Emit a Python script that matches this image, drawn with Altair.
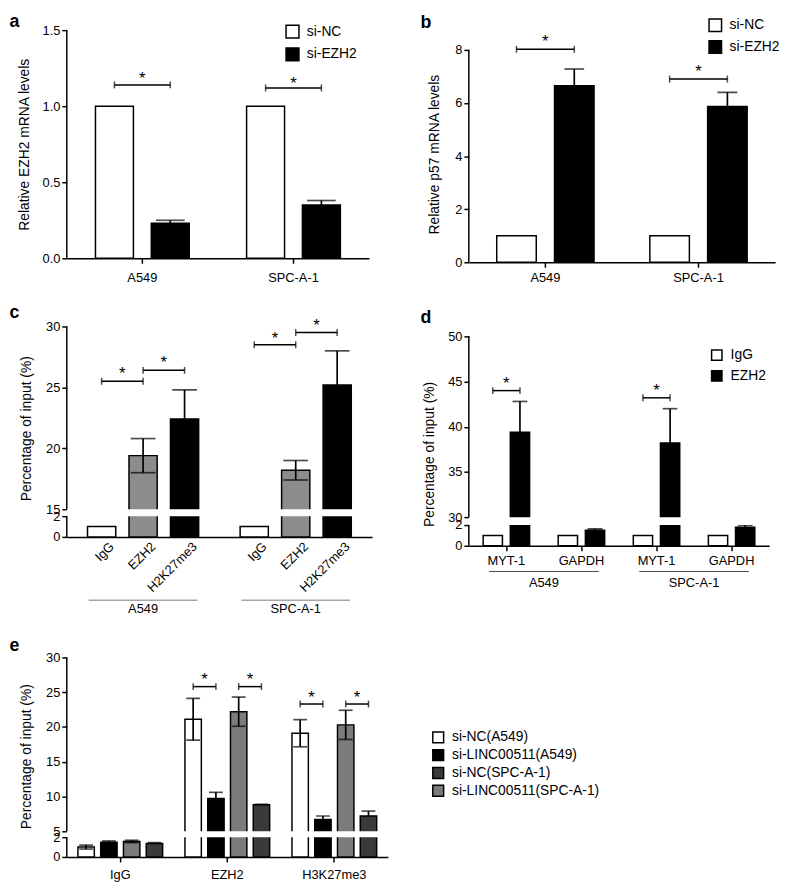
import altair as alt
import pandas as pd

FONT = "Liberation Sans"

# ---------------- panel a ----------------
a_cells = ["A549", "SPC-A-1"]
a_groups = ["si-NC", "si-EZH2"]
a_nc = [1.0, 1.0]
a_si = [0.23, 0.35]
a_si_err = [0.02, 0.03]
a_sig_y = [1.14, 1.12]
a_star_y = [1.21, 1.18]
a_yticks = [0.0, 0.5, 1.0, 1.5]

# ---------------- panel b ----------------
b_cells = ["A549", "SPC-A-1"]
b_groups = ["si-NC", "si-EZH2"]
b_nc = [1.0, 1.0]
b_si = [6.65, 5.87]
b_si_err = [0.63, 0.53]
b_sig_y = [8.02, 6.9]
b_star_y = [8.48, 7.36]
b_yticks = [0, 2, 4, 6, 8]

# ---------------- panel c ----------------
c_cells = ["A549", "SPC-A-1"]
c_abs = ["IgG", "EZH2", "H2K27me3"]
c_colors = ["white", "#8c8c8c", "black"]
c_igg = [1.0, 1.0]
c_ezh2 = [19.4, 18.2]
c_ezh2_err = [1.4, 0.8]
c_h3 = [22.4, 25.2]
c_h3_err = [2.4, 2.8]
c_sig_cell = ["A549", "A549", "SPC-A-1", "SPC-A-1"]
c_sig_left = ["IgG", "EZH2", "IgG", "EZH2"]
c_sig_right = ["EZH2", "H2K27me3", "EZH2", "H2K27me3"]
c_sig_y = [25.5, 26.4, 28.5, 29.5]
c_star_y = [26.5, 27.4, 29.4, 30.4]
c_yticks = [0, 2, 15, 20, 25, 30]
c_break = [2, 15]

# ---------------- panel d ----------------
d_cells = ["A549", "SPC-A-1"]
d_genes = ["MYT-1", "GAPDH"]
d_groups = ["IgG", "EZH2"]
d_igg = [1.0, 1.0, 1.0, 1.0]          # A549 MYT-1, A549 GAPDH, SPC MYT-1, SPC GAPDH
d_ezh2 = [39.4, 1.5, 38.2, 1.78]
d_ezh2_err = [3.4, 0.13, 3.8, 0.19]
d_sig_cell = ["A549", "SPC-A-1"]
d_sig_gene = ["MYT-1", "MYT-1"]
d_sig_y = [44.0, 43.2]
d_star_y = [45.3, 44.5]
d_yticks = [0, 2, 30, 35, 40, 45, 50]
d_break = [2, 30]

# ---------------- panel e ----------------
e_abs = ["IgG", "EZH2", "H3K27me3"]
e_series = ["si-NC(A549)", "si-LINC00511(A549)", "si-NC(SPC-A-1)", "si-LINC00511(SPC-A-1)"]
e_slot_order = ["si-NC(A549)", "si-LINC00511(A549)", "si-LINC00511(SPC-A-1)", "si-NC(SPC-A-1)"]
e_colors = ["white", "black", "#3a3a3a", "#7c7c7c"]
e_vals = [
    [1.0, 21.1, 19.1],     # si-NC(A549)
    [1.5, 9.7, 6.7],       # si-LINC00511(A549)
    [1.37, 8.8, 7.2],      # si-NC(SPC-A-1)
    [1.57, 22.2, 20.3],    # si-LINC00511(SPC-A-1)
]
e_errs = [
    [0.2, 3.0, 1.95],
    [0.12, 0.9, 0.5],
    [0.08, 0.08, 0.7],
    [0.12, 2.1, 2.1],
]
e_two_sided = [True, False, False, True]
e_sig_ab = ["EZH2", "EZH2", "H3K27me3", "H3K27me3"]
e_sig_left = ["si-NC(A549)", "si-LINC00511(SPC-A-1)", "si-NC(A549)", "si-LINC00511(SPC-A-1)"]
e_sig_right = ["si-LINC00511(A549)", "si-NC(SPC-A-1)", "si-LINC00511(A549)", "si-NC(SPC-A-1)"]
e_sig_y = [25.8, 25.8, 23.3, 23.3]
e_star_y = [27.4, 27.4, 24.8, 24.8]
e_yticks = [0, 2, 5, 10, 15, 20, 25, 30]
e_break = [2, 5]


# ---------------- helpers ----------------
def y_axis(values, title, tx, ty, fmt=None):
    kw = dict(values=values, title=title, domain=False, grid=False, tickSize=5,
              tickWidth=1.5, tickColor="black", labelFontSize=13, labelColor="black",
              labelPadding=2, labelOverlap=False, titleFontSize=14,
              titleFontWeight="normal", titleColor="black", titleX=tx, titleY=ty,
              titleAngle=270, titleAlign="center", titleBaseline="middle")
    if fmt is not None:
        kw["format"] = fmt
    return alt.Axis(**kw)


def x_axis(**extra):
    kw = dict(title=None, labelAngle=0, labelFontSize=13, labelColor="black",
              tickSize=5, tickWidth=1.5, tickColor="black", domainWidth=1.5,
              domainColor="black", labelPadding=3, grid=False)
    kw.update(extra)
    return alt.Axis(**kw)


def legend(x, y, size, rowpad):
    return alt.Legend(orient="none", legendX=x, legendY=y, title=None,
                      symbolType="square", symbolSize=size, symbolStrokeColor="black",
                      symbolStrokeWidth=1.5, labelFontSize=14, labelColor="black",
                      labelOffset=7, rowPadding=rowpad)


def ptitle(letter, dx, offset, dy=0):
    return alt.TitleParams(text=letter, anchor="start", frame="group", dx=dx, dy=dy,
                           offset=offset, fontSize=18, fontWeight="bold",
                           color="black", font=FONT)


def panel(cfg):
    xf, of = cfg["xf"], cfg["of"]

    def X():
        return alt.X(f"{xf}:N", scale=alt.Scale(domain=cfg["xdom"], paddingInner=0,
                                                 paddingOuter=0), axis=cfg["xax"])

    def O():
        return alt.XOffset(f"{of}:N", scale=alt.Scale(domain=cfg["odom"],
                                                       paddingInner=cfg["opi"],
                                                       paddingOuter=cfg["opo"]))

    def Y(f):
        return alt.Y(f"{f}:Q", scale=alt.Scale(domain=cfg["ydom"], range=cfg["yrng"],
                                               nice=False, zero=False), axis=cfg["yax"])

    L = []
    L.append(alt.Chart(cfg["bars"]).mark_bar(stroke="black", strokeWidth=1.5).encode(
        x=X(), xOffset=O(), y=Y("v"),
        color=alt.Color("g:N", scale=alt.Scale(domain=cfg["cdom"], range=cfg["crng"]),
                        legend=cfg["legend"])))
    errs = cfg["errs"]
    L.append(alt.Chart(errs).mark_rule(color="black", strokeWidth=1.7).encode(
        x=X(), xOffset=O(), y=Y("lo"), y2="hi:Q"))
    L.append(alt.Chart(errs).mark_tick(orient="horizontal", color="black",
                                       size=cfg["cap"], thickness=1.7).encode(
        x=X(), xOffset=O(), y=Y("hi")))
    low = errs[errs["two"]]
    if len(low):
        L.append(alt.Chart(low).mark_tick(orient="horizontal", color="black",
                                          size=cfg["cap"], thickness=1.7).encode(
            x=X(), xOffset=O(), y=Y("lo")))
    if cfg["brk"] is not None:
        band = pd.DataFrame({"lo": [cfg["brk"][0]], "hi": [cfg["brk"][1]]})
        L.append(alt.Chart(band).mark_rect(color="white").encode(
            x=alt.value(0), x2=alt.value("width"), y=Y("lo"), y2="hi:Q"))
    L.append(alt.Chart(cfg["segs"]).mark_rule(color="black", strokeWidth=1.5).encode(
        x=alt.value(0), y=Y("lo"), y2="hi:Q"))
    br = cfg["brackets"]
    L.append(alt.Chart(br).mark_line(color="black", strokeWidth=1.5).encode(
        x=X(), xOffset=O(), y=Y("y"), detail="bid:N"))
    L.append(alt.Chart(br).mark_tick(orient="vertical", color="black", size=7,
                                     thickness=1.5).encode(
        x=X(), xOffset=O(), y=Y("y")))
    st = cfg["stars"]
    enc = dict(x=X(), y=Y("y"))
    if of in st.columns:
        enc["xOffset"] = O()
    L.append(alt.Chart(st).mark_text(text="*", fontSize=17, dx=cfg["star_dx"], dy=5,
                                     color="black").encode(**enc))
    if "extra" in cfg:
        L += cfg["extra"](X, O, Y)
    main = alt.layer(*L)
    if "group" in cfg:
        out = alt.layer(main, cfg["group"](Y)).resolve_scale(x="independent")
    else:
        out = main
    return out.properties(width=cfg["width"], height=cfg["height"], title=cfg["title"])


def two_group(cells, groups, nc, si, si_err, sig_y, star_y):
    bars = pd.DataFrame({"cell": [c for c in cells for _ in groups],
                         "grp": [g for _ in cells for g in groups],
                         "v": [v for pair in zip(nc, si) for v in pair]})
    bars["g"] = bars["grp"]
    errs = pd.DataFrame({"cell": cells, "grp": [groups[1]] * len(cells),
                         "lo": si, "hi": [v + e for v, e in zip(si, si_err)],
                         "two": [False] * len(cells)})
    brk = pd.DataFrame({"bid": [i for i in range(len(cells)) for _ in groups],
                        "cell": [c for c in cells for _ in groups],
                        "grp": [g for _ in cells for g in groups],
                        "y": [y for y in sig_y for _ in groups]})
    stars = pd.DataFrame({"cell": cells, "y": star_y})
    return bars, errs, brk, stars


# ---------------- panel a ----------------
a_bars, a_err, a_brk, a_st = two_group(a_cells, a_groups, a_nc, a_si, a_si_err, a_sig_y, a_star_y)
pa = panel(dict(
    xf="cell", xdom=a_cells, xax=x_axis(labelPadding=8),
    of="grp", odom=a_groups, opi=0.32, opo=0.514,
    ydom=[0, 1.5], yrng=[231, 0],
    yax=y_axis(a_yticks, "Relative EZH2 mRNA levels", -42.5, 115.5, ".1f"),
    bars=a_bars, cdom=a_groups, crng=["white", "black"], legend=legend(221, -6, 170, 2),
    errs=a_err, cap=29, brk=None, segs=pd.DataFrame({"lo": [0], "hi": [1.5]}),
    brackets=a_brk, stars=a_st, star_dx=0,
    width=306, height=231, title=ptitle("a", -58, 6, dy=13)))

# ---------------- panel b ----------------
b_bars, b_err, b_brk, b_st = two_group(b_cells, b_groups, b_nc, b_si, b_si_err, b_sig_y, b_star_y)
pb = panel(dict(
    xf="cell", xdom=b_cells, xax=x_axis(labelPadding=4),
    of="grp", odom=b_groups, opi=0.316, opo=0.483,
    ydom=[0, 8], yrng=[235, 20],
    yax=y_axis(b_yticks, "Relative p57 mRNA levels", -34.5, 125.5),
    bars=b_bars, cdom=b_groups, crng=["white", "black"], legend=legend(242, -12.5, 160, 3),
    errs=b_err, cap=20, brk=None, segs=pd.DataFrame({"lo": [0], "hi": [8]}),
    brackets=b_brk, stars=b_st, star_dx=0,
    width=310, height=235, title=ptitle("b", -49, 6, dy=20)))

# ---------------- panel c ----------------
c_bars = pd.DataFrame({
    "cell": [c for c in c_cells for _ in c_abs],
    "ab": [a for _ in c_cells for a in c_abs],
    "v": [v for trip in zip(c_igg, c_ezh2, c_h3) for v in trip]})
c_bars["g"] = c_bars["ab"]
c_err = pd.DataFrame({
    "cell": [c for c in c_cells for _ in range(2)],
    "ab": ["EZH2", "H2K27me3"] * len(c_cells),
    "lo": [x for i in range(len(c_cells)) for x in (c_ezh2[i] - c_ezh2_err[i], c_h3[i])],
    "hi": [x for i in range(len(c_cells)) for x in (c_ezh2[i] + c_ezh2_err[i], c_h3[i] + c_h3_err[i])],
    "two": [True, False] * len(c_cells)})
c_brk = pd.DataFrame({
    "bid": [i for i in range(len(c_sig_cell)) for _ in range(2)],
    "cell": [c for c in c_sig_cell for _ in range(2)],
    "ab": [x for pair in zip(c_sig_left, c_sig_right) for x in pair],
    "y": [y for y in c_sig_y for _ in range(2)]})
c_st = pd.DataFrame({"cell": c_sig_cell, "ab": c_sig_left, "y": c_star_y})


def c_extra(X, O, Y):
    lab = pd.DataFrame({"cell": [c for c in c_cells for _ in c_abs],
                        "ab": [a for _ in c_cells for a in c_abs], "z": 0})
    grp = pd.DataFrame({"cell": c_cells, "z": 0})
    return [
        alt.Chart(lab).mark_text(angle=315, align="right", baseline="middle", dx=2, dy=13,
                                 fontSize=13, color="black").encode(
            x=X(), xOffset=O(), y=Y("z"), text="ab:N"),
        alt.Chart(grp).mark_tick(orient="horizontal", size=110, thickness=1,
                                 color="black", yOffset=64).encode(x=X(), y=Y("z")),
        alt.Chart(grp).mark_text(dy=73, baseline="middle", fontSize=13,
                                 color="black").encode(x=X(), y=Y("z"), text="cell:N"),
    ]


pc = panel(dict(
    xf="cell", xdom=c_cells, xax=x_axis(labels=False, ticks=False),
    of="ab", odom=c_abs, opi=0.32, opo=0.5,
    ydom=[0, 2, 15, 30], yrng=[213, 192, 185, 0],
    yax=y_axis(c_yticks, "Percentage of input (%)", -40.5, 103),
    bars=c_bars, cdom=c_abs, crng=c_colors, legend=None,
    errs=c_err, cap=25, brk=c_break,
    segs=pd.DataFrame({"lo": [0, 15], "hi": [2, 30]}),
    brackets=c_brk, stars=c_st, star_dx=21, extra=c_extra,
    width=309, height=213, title=ptitle("c", -58, 8, dy=12)))

# ---------------- panel d ----------------
d_keys = [f"{c}|{g}" for c in d_cells for g in d_genes]
d_bars = pd.DataFrame({
    "k": [k for k in d_keys for _ in d_groups],
    "grp": [g for _ in d_keys for g in d_groups],
    "v": [v for pair in zip(d_igg, d_ezh2) for v in pair]})
d_bars["g"] = d_bars["grp"]
d_err = pd.DataFrame({"k": d_keys, "grp": ["EZH2"] * len(d_keys), "lo": d_ezh2,
                      "hi": [v + e for v, e in zip(d_ezh2, d_ezh2_err)],
                      "two": [False] * len(d_keys)})
d_sig_keys = [f"{c}|{g}" for c, g in zip(d_sig_cell, d_sig_gene)]
d_brk = pd.DataFrame({
    "bid": [i for i in range(len(d_sig_keys)) for _ in d_groups],
    "k": [k for k in d_sig_keys for _ in d_groups],
    "grp": [g for _ in d_sig_keys for g in d_groups],
    "y": [y for y in d_sig_y for _ in d_groups]})
d_st = pd.DataFrame({"k": d_sig_keys, "y": d_star_y})


def d_group(Y):
    grp = pd.DataFrame({"cell": d_cells, "z": 0})
    gx = alt.X("cell:N", scale=alt.Scale(domain=d_cells, paddingInner=0, paddingOuter=0),
               axis=None)
    return alt.layer(
        alt.Chart(grp).mark_tick(orient="horizontal", size=111, thickness=1,
                                 color="black", yOffset=26).encode(x=gx, y=Y("z")),
        alt.Chart(grp).mark_text(dy=38, baseline="middle", fontSize=13,
                                 color="black").encode(x=gx, y=Y("z"), text="cell:N"),
    )


pd_ = panel(dict(
    xf="k", xdom=d_keys,
    xax=x_axis(labelPadding=4, labelExpr="split(datum.value, '|')[1]"),
    of="grp", odom=d_groups, opi=0.29, opo=0.527,
    ydom=[0, 2, 30, 50], yrng=[222, 201, 193, 10],
    yax=y_axis(d_yticks, "Percentage of input (%)", -39.5, 129),
    bars=d_bars, cdom=d_groups, crng=["white", "black"], legend=legend(244, 22, 110, 3),
    errs=d_err, cap=15, brk=d_break,
    segs=pd.DataFrame({"lo": [0, 30], "hi": [2, 50]}),
    brackets=d_brk, stars=d_st, star_dx=0, group=d_group,
    width=304, height=222, title=ptitle("d", -49, 3, dy=3)))

# ---------------- panel e ----------------
e_bars = pd.DataFrame({
    "ab": [a for s in e_series for a in e_abs],
    "g": [s for s in e_series for _ in e_abs],
    "v": [v for row in e_vals for v in row]})
e_rows = []
for si, s in enumerate(e_series):
    for ai, a in enumerate(e_abs):
        v, er = e_vals[si][ai], e_errs[si][ai]
        e_rows.append({"ab": a, "g": s, "lo": v - er if e_two_sided[si] else v,
                       "hi": v + er, "two": e_two_sided[si]})
e_err = pd.DataFrame(e_rows)
e_brk = pd.DataFrame({
    "bid": [i for i in range(len(e_sig_ab)) for _ in range(2)],
    "ab": [a for a in e_sig_ab for _ in range(2)],
    "g": [x for pair in zip(e_sig_left, e_sig_right) for x in pair],
    "y": [y for y in e_sig_y for _ in range(2)]})
e_st = pd.DataFrame({"ab": e_sig_ab, "g": e_sig_left, "y": e_star_y})

pe = panel(dict(
    xf="ab", xdom=e_abs, xax=x_axis(labelPadding=7),
    of="g", odom=e_slot_order, opi=0.28, opo=0.49,
    ydom=[0, 2, 5, 30], yrng=[250, 230, 224, 48],
    yax=y_axis(e_yticks, "Percentage of input (%)", -40.5, 148),
    bars=e_bars, cdom=e_series, crng=e_colors, legend=legend(369, 122, 120, 0),
    errs=e_err, cap=14, brk=e_break,
    segs=pd.DataFrame({"lo": [0, 5], "hi": [2, 30]}),
    brackets=e_brk, stars=e_st, star_dx=11.5,
    width=325, height=250, title=ptitle("e", -58, 0, dy=46)))

chart = alt.concat(pa, pb, pc, pd_, pe, columns=2,
                   spacing={"row": 65, "column": 82}, bounds="flush").resolve_scale(
    color="independent", xOffset="independent").resolve_legend(
    color="independent").properties(
    padding={"left": 1.5, "top": 0, "right": 0, "bottom": 0}).configure(
    font=FONT).configure_view(stroke=None).configure_axis(
    labelFont=FONT, titleFont=FONT).configure_legend(labelFont=FONT).configure_title(font=FONT)

chart.save("out.html", embed_options={"renderer": "svg", "actions": False})
